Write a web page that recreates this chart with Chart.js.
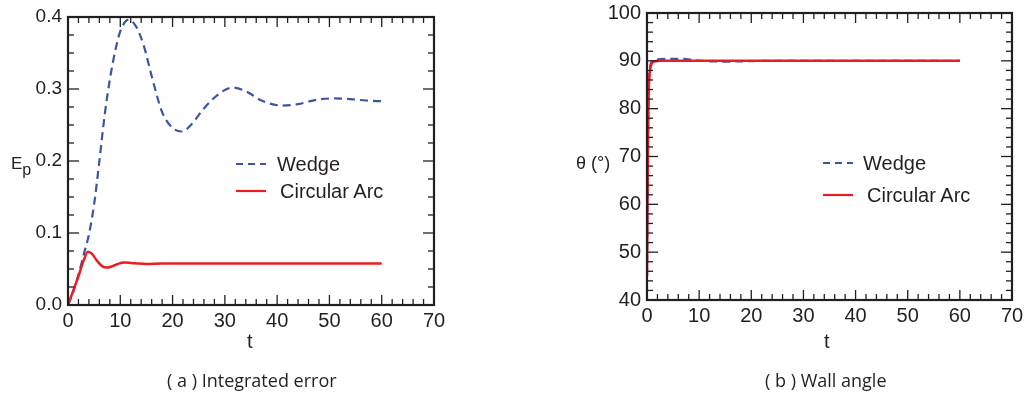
<!DOCTYPE html>
<html>
<head>
<meta charset="utf-8">
<script src="https://cdn.jsdelivr.net/npm/chart.js@4"></script>
<style>
  body { margin: 0; width: 1029px; height: 398px; background: #fff; position: relative; overflow: hidden;
         font-family: "Liberation Sans", Arial, sans-serif; color: #231f20; }
  canvas { position: absolute; top: 0; }
  .lbl { position: absolute; white-space: nowrap; line-height: 1; }
  .cap { position: absolute; font-family: "Open Sans", "Noto Sans", sans-serif; font-size: 18px; white-space: nowrap; line-height: 1.2; }
  .leg { position: absolute; font-size: 20px; line-height: 1; white-space: nowrap; }
  .leg svg { position: absolute; left: 0; }
</style>
</head>
<body>
<canvas id="chartA" width="480" height="335" style="left:0"></canvas>
<canvas id="chartB" width="489" height="335" style="left:540px"></canvas>

<div class="lbl" style="left:11px;top:155px;font-size:17px">E<sub style="font-size:16px;vertical-align:-6px">p</sub></div>
<div class="lbl" style="left:247px;top:331px;font-size:20px">t</div>
<div class="lbl" style="left:576px;top:154px;font-size:18px">θ (°)</div>
<div class="lbl" style="left:824px;top:331px;font-size:20px">t</div>

<div class="leg" style="left:236px;top:154px;width:120px;height:22px">
  <svg width="32" height="22"><line x1="0" y1="10" x2="30" y2="10" stroke="#3b55a5" stroke-width="2.2" stroke-dasharray="7,5"/></svg>
  <span style="position:absolute;left:41px;top:0">Wedge</span>
</div>
<div class="leg" style="left:236px;top:181px;width:160px;height:22px">
  <svg width="32" height="22"><line x1="0" y1="10" x2="30" y2="10" stroke="#ed1c24" stroke-width="2.2"/></svg>
  <span style="position:absolute;left:44px;top:0">Circular Arc</span>
</div>
<div class="leg" style="left:823px;top:153px;width:120px;height:22px">
  <svg width="32" height="22"><line x1="0" y1="10" x2="30" y2="10" stroke="#3b55a5" stroke-width="2.2" stroke-dasharray="7,5"/></svg>
  <span style="position:absolute;left:40px;top:0">Wedge</span>
</div>
<div class="leg" style="left:823px;top:185px;width:160px;height:22px">
  <svg width="32" height="22"><line x1="0" y1="10" x2="30" y2="10" stroke="#ed1c24" stroke-width="2.2"/></svg>
  <span style="position:absolute;left:44px;top:0">Circular Arc</span>
</div>

<div class="cap" style="left:167px;top:370px">( a ) Integrated error</div>
<div class="cap" style="left:765px;top:370px">( b ) Wall angle</div>

<script>
// ---------- Data ----------
// (a) integrated error E_p vs t
const errWedgeT = [0, 1, 2, 3, 4, 5, 6, 7, 8, 9, 10, 11.5, 13, 14.5, 16, 18, 20, 21.8, 23.5, 26, 29, 31.5, 34, 37, 41, 44, 47.5, 51, 54, 57, 60];
const errWedge  = [0, 0.018, 0.042, 0.07, 0.098, 0.14, 0.2, 0.263, 0.313, 0.352, 0.38, 0.396, 0.387, 0.36, 0.318, 0.268, 0.246, 0.241, 0.25, 0.273, 0.294, 0.302, 0.297, 0.284, 0.277, 0.279, 0.285, 0.287, 0.286, 0.284, 0.283];
const errArcT   = [0, 1, 2, 3, 3.8, 4.6, 5.5, 6.5, 7.4, 8.5, 9.5, 10.8, 12, 13.5, 15, 18, 25, 35, 45, 60];
const errArc    = [0, 0.02, 0.04, 0.062, 0.074, 0.071, 0.062, 0.054, 0.052, 0.054, 0.057, 0.059, 0.0585, 0.0575, 0.057, 0.0575, 0.0575, 0.0575, 0.0575, 0.0575];

// (b) wall angle theta vs t
const angWedgeT = [0, 0.1, 0.2, 0.35, 0.6, 1, 2, 4, 7, 9, 12, 16, 20, 30, 60];
const angWedge  = [45, 62, 76, 85, 88.8, 89.9, 90.3, 90.4, 90.4, 90.15, 89.9, 89.85, 89.95, 90, 90];
const angArcT   = [0, 0.1, 0.2, 0.3, 0.45, 0.7, 1, 1.5, 2.5, 60];
const angArc    = [45, 60, 73, 82, 86.5, 88.8, 89.6, 89.9, 90, 90];

const BLUE = "#3b55a5";
const RED  = "#ed1c24";
const INK  = "#231f20";
const FAMILY = "'Liberation Sans', Arial, sans-serif";

const pts = (xs, ys) => xs.map((x, i) => ({ x, y: ys[i] }));

// ---------- Plugin: framed box with inward ticks on all four sides ----------
const boxTicks = {
  id: "boxTicks",
  afterDraw(chart, args, opts) {
    const { ctx, chartArea: a, scales: { x, y } } = chart;
    ctx.save();
    ctx.strokeStyle = INK;
    ctx.lineWidth = 1.3;
    const seg = (x1, y1, x2, y2) => { ctx.beginPath(); ctx.moveTo(x1, y1); ctx.lineTo(x2, y2); ctx.stroke(); };

    let n = Math.round((x.max - x.min) / opts.xMinor), r = Math.round(opts.xMajor / opts.xMinor);
    for (let i = 0; i <= n; i++) {
      const px = x.getPixelForValue(x.min + i * opts.xMinor);
      const L = i % r === 0 ? 10 : 6;
      seg(px, a.bottom, px, a.bottom - L);
      seg(px, a.top, px, a.top + L);
    }
    n = Math.round((y.max - y.min) / opts.yMinor); r = Math.round(opts.yMajor / opts.yMinor);
    for (let i = 0; i <= n; i++) {
      const py = y.getPixelForValue(y.min + i * opts.yMinor);
      const L = i % r === 0 ? 11 : 6;
      seg(a.left, py, a.left + L, py);
      seg(a.right, py, a.right - L, py);
    }
    ctx.lineWidth = 2.2;
    ctx.strokeRect(a.left, a.top, a.width, a.height);
    ctx.restore();
  },
};

// ---------- Shared chart builder ----------
function makeChart(canvasId, series, yCfg, box) {
  const canvas = document.getElementById(canvasId);
  new Chart(canvas, {
    type: "line",
    data: {
      datasets: [
        {
          label: "Wedge",
          data: pts(series.wT, series.w),
          borderColor: BLUE,
          borderWidth: 2.2,
          borderDash: [8, 5],
          pointRadius: 0,
          cubicInterpolationMode: "monotone",
          order: 2, // drawn underneath the red curve
        },
        {
          label: "Circular Arc",
          data: pts(series.aT, series.a),
          borderColor: RED,
          borderWidth: 2.5,
          pointRadius: 0,
          cubicInterpolationMode: "monotone",
          order: 1,
        },
      ],
    },
    options: {
      responsive: false,
      animation: false,
      layout: { padding: box.padding },
      plugins: {
        legend: { display: false },
        tooltip: { enabled: false },
        boxTicks: { xMinor: 2, xMajor: 10, yMinor: yCfg.minor, yMajor: yCfg.step },
      },
      scales: {
        x: {
          type: "linear",
          min: 0,
          max: 70,
          ticks: { stepSize: 10, color: INK, font: { family: FAMILY, size: 20 }, padding: 4, maxRotation: 0 },
          grid: { display: false, drawTicks: false },
          border: { display: false },
          afterFit: (s) => { s.height = box.xHeight; s.paddingLeft = 0; s.paddingRight = 0; },
        },
        y: {
          min: yCfg.min,
          max: yCfg.max,
          ticks: {
            stepSize: yCfg.step,
            color: INK,
            font: { family: FAMILY, size: yCfg.fontSize },
            padding: 6,
            callback: yCfg.fmt,
          },
          grid: { display: false, drawTicks: false },
          border: { display: false },
          afterFit: (s) => { s.width = box.yWidth; s.paddingTop = 0; s.paddingBottom = 0; },
        },
      },
    },
    plugins: [boxTicks],
  });
}

makeChart(
  "chartA",
  { wT: errWedgeT, w: errWedge, aT: errArcT, a: errArc },
  { min: 0, max: 0.4, step: 0.1, minor: 0.025, fontSize: 19, fmt: (v) => Number(v).toFixed(1) },
  { padding: { top: 17, right: 46, left: 0, bottom: 0 }, xHeight: 30, yWidth: 68 }
);

makeChart(
  "chartB",
  { wT: angWedgeT, w: angWedge, aT: angArcT, a: angArc },
  { min: 40, max: 100, step: 10, minor: 2, fontSize: 20, fmt: (v) => String(v) },
  { padding: { top: 13, right: 17, left: 0, bottom: 0 }, xHeight: 35, yWidth: 107 }
);
</script>
</body>
</html>
